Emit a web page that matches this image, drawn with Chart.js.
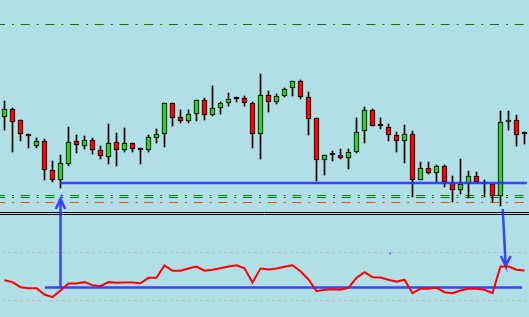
<!DOCTYPE html>
<html>
<head>
<meta charset="utf-8">
<script src="https://cdn.jsdelivr.net/npm/chart.js"></script>
<style>
  html, body { margin: 0; padding: 0; background: #b0e0e6; }
  #wrap { width: 529px; height: 317px; position: relative; background: #b0e0e6; }
</style>
</head>
<body>
<div id="wrap"><canvas id="grafico"></canvas></div>
<script>
// OHLC, one entry per bar
const candleOpen = [150.94, 151.02, 150.91, 150.77, 150.65, 150.70, 150.41, 150.31, 150.47, 150.70,
  150.65, 150.71, 150.61, 150.54, 150.69, 150.61, 150.68, 150.63, 150.61, 150.73,
  150.77, 151.08, 150.94, 150.90, 150.97, 151.11, 150.96, 151.03, 151.08, 151.12,
  151.13, 151.08, 150.77, 151.16, 151.09, 151.15, 151.23, 151.30, 151.14, 150.93,
  150.51, 150.56, 150.56, 150.53, 150.59, 150.80, 151.01, 150.85, 150.84, 150.76,
  150.70, 150.77, 150.31, 150.43, 150.38, 150.45, 150.28, 150.21, 150.27, 150.35,
  150.27, 150.27, 150.15, 150.89, 150.91, 150.77];
const candleHigh = [151.10, 151.03, 150.91, 150.77, 150.73, 150.72, 150.50, 150.56, 150.84, 150.76,
  150.75, 150.73, 150.65, 150.87, 150.78, 150.83, 150.68, 150.63, 150.76, 150.82,
  151.08, 151.08, 151.01, 151.01, 151.11, 151.13, 151.25, 151.09, 151.18, 151.14,
  151.15, 151.09, 151.37, 151.20, 151.17, 151.23, 151.30, 151.31, 151.19, 150.93,
  150.56, 150.60, 150.62, 150.62, 150.93, 151.04, 151.02, 150.93, 150.87, 150.79,
  150.86, 150.80, 150.49, 150.49, 150.46, 150.46, 150.35, 150.52, 150.40, 150.39,
  150.31, 150.27, 151.00, 151.00, 150.96, 150.79];
const candleLow = [150.81, 150.59, 150.70, 150.63, 150.63, 150.31, 150.29, 150.23, 150.45, 150.58,
  150.62, 150.57, 150.52, 150.47, 150.45, 150.59, 150.59, 150.47, 150.59, 150.68,
  150.64, 150.85, 150.88, 150.88, 150.90, 150.91, 150.95, 150.97, 151.05, 151.09,
  151.05, 150.63, 150.52, 150.99, 151.07, 151.14, 151.15, 151.12, 150.76, 150.30,
  150.36, 150.50, 150.52, 150.42, 150.58, 150.68, 150.85, 150.82, 150.70, 150.59,
  150.48, 150.14, 150.31, 150.37, 150.29, 150.24, 150.09, 150.17, 150.13, 150.28,
  150.14, 150.09, 150.05, 150.81, 150.65, 150.67];
const candleClose = [151.02, 150.89, 150.77, 150.75, 150.70, 150.41, 150.31, 150.48, 150.69, 150.66,
  150.71, 150.61, 150.55, 150.68, 150.61, 150.68, 150.62, 150.61, 150.74, 150.77,
  151.08, 150.93, 150.90, 150.97, 151.11, 150.96, 151.03, 151.08, 151.12, 151.12,
  151.08, 150.77, 151.16, 151.09, 151.15, 151.22, 151.30, 151.14, 150.92, 150.51,
  150.56, 150.56, 150.53, 150.59, 150.79, 151.01, 150.85, 150.85, 150.76, 150.70,
  150.77, 150.31, 150.43, 150.38, 150.45, 150.29, 150.21, 150.27, 150.35, 150.29,
  150.27, 150.15, 150.89, 150.91, 150.76, 150.77];

// oscillator in the lower window
const rsiValues = [46.9, 45.3, 41.1, 40.3, 40.3, 35.0, 32.8, 38.3, 44.2, 44.2,
  45.3, 42.8, 41.9, 45.3, 44.8, 45.0, 45.0, 44.4, 48.9, 48.9,
  59.2, 54.8, 54.8, 56.7, 58.3, 54.8, 55.6, 56.9, 58.3, 59.4,
  56.9, 45.0, 56.7, 55.8, 56.7, 58.1, 59.4, 54.4, 47.5, 37.8,
  38.9, 39.4, 38.9, 40.6, 48.9, 53.6, 49.4, 49.2, 47.3, 45.6,
  47.3, 36.1, 39.8, 39.8, 40.6, 36.9, 36.1, 38.3, 39.8, 39.8,
  38.9, 36.1, 58.3, 58.3, 55.6, 55.0];
const rsiLevels = [70, 30];

// horizontal price levels
const greenLevels = [151.865, 150.155, 150.135];
const orangeLevels = [150.085];
const windowBorder = [149.985, 149.965];

// hand drawn objects (bar index, value)
const supportPrice = 150.28;
const supportFrom = 7, supportTo = 65.3;
const rsiSupport = 40.8;
const rsiSupportFrom = 5.06, rsiSupportTo = 64.7;
const upArrowX = [7, 7, 6.41, 7, 7.59];
const upArrowY = [149.24, 150.12, 150.02, 150.12, 150.02];
const downArrowX = [62.28, 62.65, 62.06, 62.65, 63.28];
const downArrowY = [150.02, 149.45, 149.55, 149.45, 149.55];

const xMin = -0.5625, xMax = 65.5625;
const idx = candleOpen.map((_, i) => i);

function bodyColor(i) {
    if (candleClose[i] > candleOpen[i]) return '#32cd32';
    if (candleClose[i] < candleOpen[i]) return '#ff0000';
    return '#000000';
}

function level(y, color, dash, axis, order, width) {
    return {
        type: 'line',
        data: [{x: xMin, y: y}, {x: xMax, y: y}],
        borderColor: color,
        borderWidth: width || 1,
        borderDash: dash,
        borderDashOffset: 4,
        pointRadius: 0,
        pointHoverRadius: 0,
        yAxisID: axis,
        order: order
    };
}

const dashDot = [9, 7, 2, 6.7];
const blue = 'rgba(48,48,255,0.9)';

let datasets = [];
greenLevels.forEach(v => datasets.push(level(v, '#008000', dashDot, 'y', 10)));
orangeLevels.forEach(v => datasets.push(level(v, '#ff4500', dashDot, 'y', 10)));
windowBorder.forEach(v => datasets.push(level(v, '#000000', [], 'y', 10)));
rsiLevels.forEach(v => datasets.push(level(v, '#c8bebe', [3, 3], 'yRsi', 10)));

datasets.push({
    type: 'bar',
    data: idx.map(i => ({x: i, y: [candleLow[i], candleHigh[i]]})),
    backgroundColor: '#000000',
    barThickness: 1,
    grouped: false,
    yAxisID: 'y',
    order: 6
});
datasets.push({
    type: 'bar',
    data: idx.map(i => ({x: i, y: [candleOpen[i], candleClose[i]]})),
    backgroundColor: idx.map(bodyColor),
    borderColor: '#000000',
    borderWidth: 1,
    borderSkipped: false,
    minBarLength: 2,
    barThickness: 5,
    grouped: false,
    yAxisID: 'y',
    order: 5
});

datasets.push({
    type: 'line',
    data: idx.map(i => ({x: i, y: rsiValues[i]})),
    borderColor: '#ff0000',
    borderWidth: 2,
    pointRadius: 0,
    pointHoverRadius: 0,
    tension: 0,
    yAxisID: 'yRsi',
    order: 1
});

const blueLine = { borderColor: blue, borderWidth: 2.5, pointRadius: 0, pointHoverRadius: 0, order: 2 };
datasets.push(Object.assign({
    type: 'line',
    data: [{x: supportFrom, y: supportPrice}, {x: supportTo, y: supportPrice}],
    yAxisID: 'y'
}, blueLine));
datasets.push(Object.assign({
    type: 'line',
    data: [{x: rsiSupportFrom, y: rsiSupport}, {x: rsiSupportTo, y: rsiSupport}],
    yAxisID: 'yRsi'
}, blueLine));
datasets.push(Object.assign({
    type: 'line',
    data: upArrowX.map((x, i) => ({x: x, y: upArrowY[i]})),
    yAxisID: 'y'
}, blueLine));
datasets.push(Object.assign({
    type: 'line',
    data: downArrowX.map((x, i) => ({x: x, y: downArrowY[i]})),
    yAxisID: 'y'
}, blueLine));
datasets.push({
    type: 'scatter',
    data: [{x: 48.2, y: 69.2}],
    pointStyle: 'rect',
    pointRadius: 1.5,
    pointHoverRadius: 1.5,
    backgroundColor: '#7070ff',
    borderWidth: 0,
    yAxisID: 'yRsi',
    order: 2
});

let grafico = new Chart(document.getElementById('grafico').getContext('2d'), {
    type: 'bar',
    data: { datasets: datasets },
    options: {
        responsive: true,
        maintainAspectRatio: false,
        animation: false,
        layout: { padding: 0, autoPadding: false },
        plugins: {
            legend: { display: false },
            tooltip: { enabled: false }
        },
        scales: {
            x: { type: 'linear', display: false, offset: false, min: xMin, max: xMax },
            y: { type: 'linear', display: false, min: 148.94, max: 152.11 },
            yRsi: { type: 'linear', display: false, min: 16.25, max: 280.42 }
        }
    }
});
</script>
</body>
</html>
